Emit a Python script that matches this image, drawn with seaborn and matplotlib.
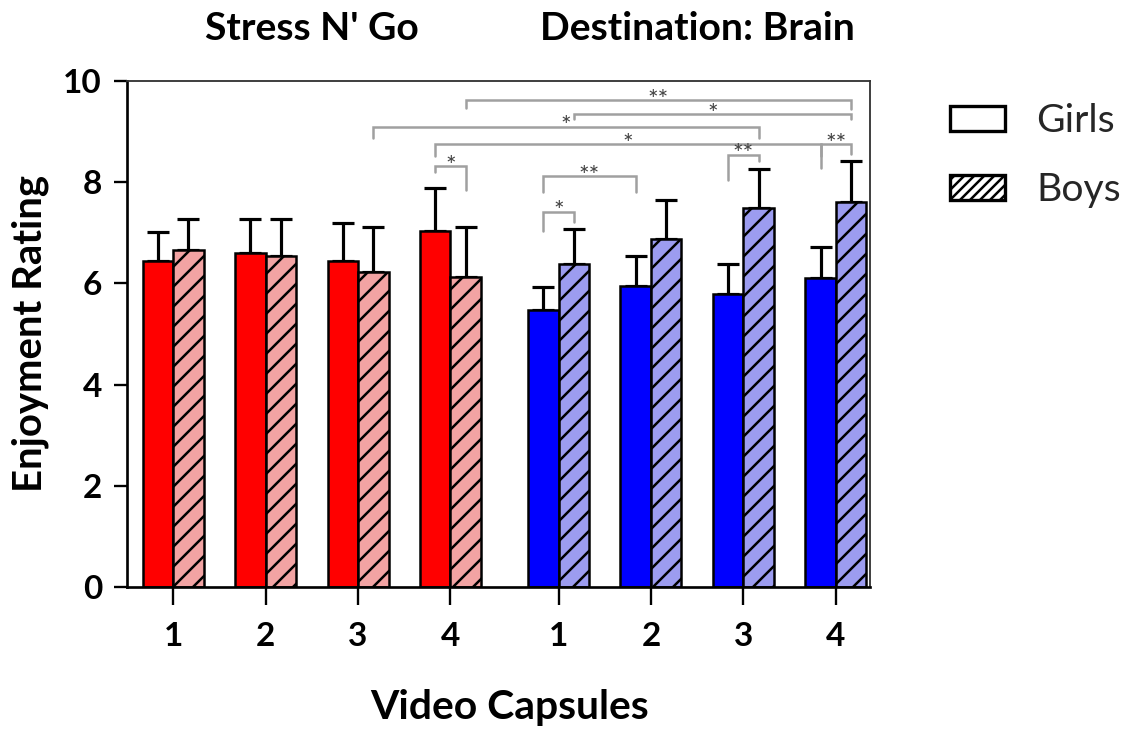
import numpy as np
import pandas as pd
import matplotlib
matplotlib.use("Agg")
import matplotlib.pyplot as plt
from matplotlib.patches import Patch
import seaborn as sns

# ---- data ---------------------------------------------------------------
programs = ["Stress N' Go", "Destination: Brain"]
capsules = ["1", "2", "3", "4"]
sexes = ["Girls", "Boys"]

sng_girls_mean = [6.44, 6.61, 6.44, 7.04]
sng_girls_sd = [0.58, 0.66, 0.76, 0.84]
sng_boys_mean = [6.66, 6.55, 6.23, 6.13]
sng_boys_sd = [0.61, 0.72, 0.88, 0.98]

db_girls_mean = [5.47, 5.95, 5.80, 6.11]
db_girls_sd = [0.45, 0.60, 0.58, 0.60]
db_boys_mean = [6.38, 6.88, 7.50, 7.60]
db_boys_sd = [0.69, 0.76, 0.76, 0.82]

# significance brackets: (program, capsule, sex) -> (program, capsule, sex),
# bracket height, left / right leg ends, label
sig_brackets = [
    ((0, 3, "Boys"), (1, 3, "Boys"), 9.62, 9.46, 9.45, "**"),
    ((1, 0, "Boys"), (1, 3, "Boys"), 9.34, 9.24, 9.24, "*"),
    ((0, 2, "Boys"), (1, 2, "Boys"), 9.10, 8.87, 8.87, "*"),
    ((0, 3, "Girls"), (1, 3, "Girls"), 8.75, 8.52, 8.52, "*"),
    ((0, 3, "Girls"), (0, 3, "Boys"), 8.32, 8.21, 7.85, "*"),
    ((1, 0, "Girls"), (1, 1, "Girls"), 8.12, 7.81, 7.81, "**"),
    ((1, 2, "Girls"), (1, 2, "Boys"), 8.54, 8.04, 8.42, "**"),
    ((1, 3, "Girls"), (1, 3, "Boys"), 8.75, 8.29, 8.56, "**"),
    ((1, 0, "Girls"), (1, 0, "Boys"), 7.42, 7.04, 7.22, "*"),
]

# ---- layout / style -----------------------------------------------------
GROUP_START = [0.0, 4.17]      # x position of capsule 1 for each program
BAR_WIDTH = 0.66               # width of a girls+boys pair
palettes = [
    {"Girls": "#FF0000", "Boys": "#F2A3A3"},
    {"Girls": "#0000FF", "Boys": "#9C9CF0"},
]

sns.set_theme(style="white")
plt.rcParams["font.family"] = ["Lato", "DejaVu Sans"]
plt.rcParams["hatch.linewidth"] = 1.5

DPI = 120
fig = plt.figure(figsize=(1122 / DPI, 729 / DPI), dpi=DPI)
ax = fig.add_axes([127 / 1122, 1 - 587 / 729, (870 - 127) / 1122, (587 - 81) / 729])

means = [[sng_girls_mean, sng_boys_mean], [db_girls_mean, db_boys_mean]]
sds = [[sng_girls_sd, sng_boys_sd], [db_girls_sd, db_boys_sd]]

bar_center = {}
for g, prog in enumerate(programs):
    rows = []
    for s, sex in enumerate(sexes):
        for c, cap in enumerate(capsules):
            rows.append({"pos": GROUP_START[g] + c, "sex": sex,
                         "mean": means[g][s][c], "sd": sds[g][s][c]})
    df = pd.DataFrame(rows)
    n_before = len(ax.containers)
    sns.barplot(data=df, x="pos", y="mean", hue="sex", hue_order=sexes,
                palette=palettes[g], saturation=1, native_scale=True,
                width=BAR_WIDTH, errorbar=None, edgecolor="black",
                linewidth=1.5, legend=False, ax=ax, zorder=2)
    new_containers = ax.containers[n_before:]
    for s, (sex, cont) in enumerate(zip(sexes, new_containers)):
        xs = []
        for c, bar in enumerate(cont):
            bar.set_edgecolor("black")
            bar.set_linewidth(1.5)
            if sex == "Boys":
                bar.set_hatch("//")
            xc = bar.get_x() + bar.get_width() / 2
            bar_center[(g, c, sex)] = xc
            xs.append(xc)
        ax.errorbar(xs, means[g][s], yerr=[np.zeros(4), sds[g][s]],
                    fmt="none", ecolor="black", elinewidth=1.9,
                    capsize=6.5, capthick=1.9, zorder=1)

# significance brackets
for a, b, top, leg_a, leg_b, label in sig_brackets:
    xa, xb = bar_center[a], bar_center[b]
    ax.plot([xa, xa, xb, xb], [leg_a, top, top, leg_b],
            color="#A0A0A0", lw=1.5, zorder=3, clip_on=False,
            solid_joinstyle="miter")
    ax.text((xa + xb) / 2, top - 0.15, label, ha="center", va="baseline",
            fontsize=15, color="#404040", clip_on=False)

# program titles
for g, prog in enumerate(programs):
    ax.text(GROUP_START[g] + 1.5, 11.03, prog, ha="center", va="center",
            fontsize=23.5, fontweight="bold", color="black", clip_on=False)

# axes
ax.set_xlim(-0.5, 7.54)
ax.set_ylim(0, 10)
tick_pos = [GROUP_START[g] + c for g in range(2) for c in range(4)]
ax.set_xticks(tick_pos)
ax.set_xticklabels(capsules * 2)
ax.set_yticks([0, 2, 4, 6, 8, 10])
ax.tick_params(axis="x", direction="out", length=11, width=1.4, pad=10,
               labelsize=20, colors="black", bottom=True)
ax.tick_params(axis="y", direction="out", length=8, width=1.4, pad=7,
               labelsize=20, colors="black", left=True)
for lab in ax.get_xticklabels() + ax.get_yticklabels():
    lab.set_fontweight("bold")
for side in ["left", "bottom"]:
    ax.spines[side].set_color("black")
    ax.spines[side].set_linewidth(1.6)
for side in ["top", "right"]:
    ax.spines[side].set_color("#333333")
    ax.spines[side].set_linewidth(1.1)
ax.grid(False)

ax.set_xlabel("Video Capsules", fontsize=24.5, fontweight="bold", color="black")
ax.set_ylabel("Enjoyment Rating", fontsize=24, fontweight="bold", color="black")
ax.xaxis.set_label_coords((510 - 127) / 743, (587 - 708) / 506)
ax.xaxis.label.set_va("center")
ax.yaxis.set_label_coords((30 - 127) / 743, 0.5)
ax.yaxis.label.set_va("center")

# legend
handles = [Patch(facecolor="white", edgecolor="black", linewidth=2.0, label="Girls"),
           Patch(facecolor="white", edgecolor="black", linewidth=2.0, hatch="////", label="Boys")]
fig.legend(handles=handles, loc="upper left", bbox_to_anchor=(950 / 1122, 1 - 103 / 729),
           frameon=False, fontsize=23.5, handlelength=1.4, handleheight=0.62,
           handletextpad=0.8, labelspacing=0.85, borderaxespad=0, borderpad=0)

fig.savefig("out.png", dpi=DPI, facecolor="white")
